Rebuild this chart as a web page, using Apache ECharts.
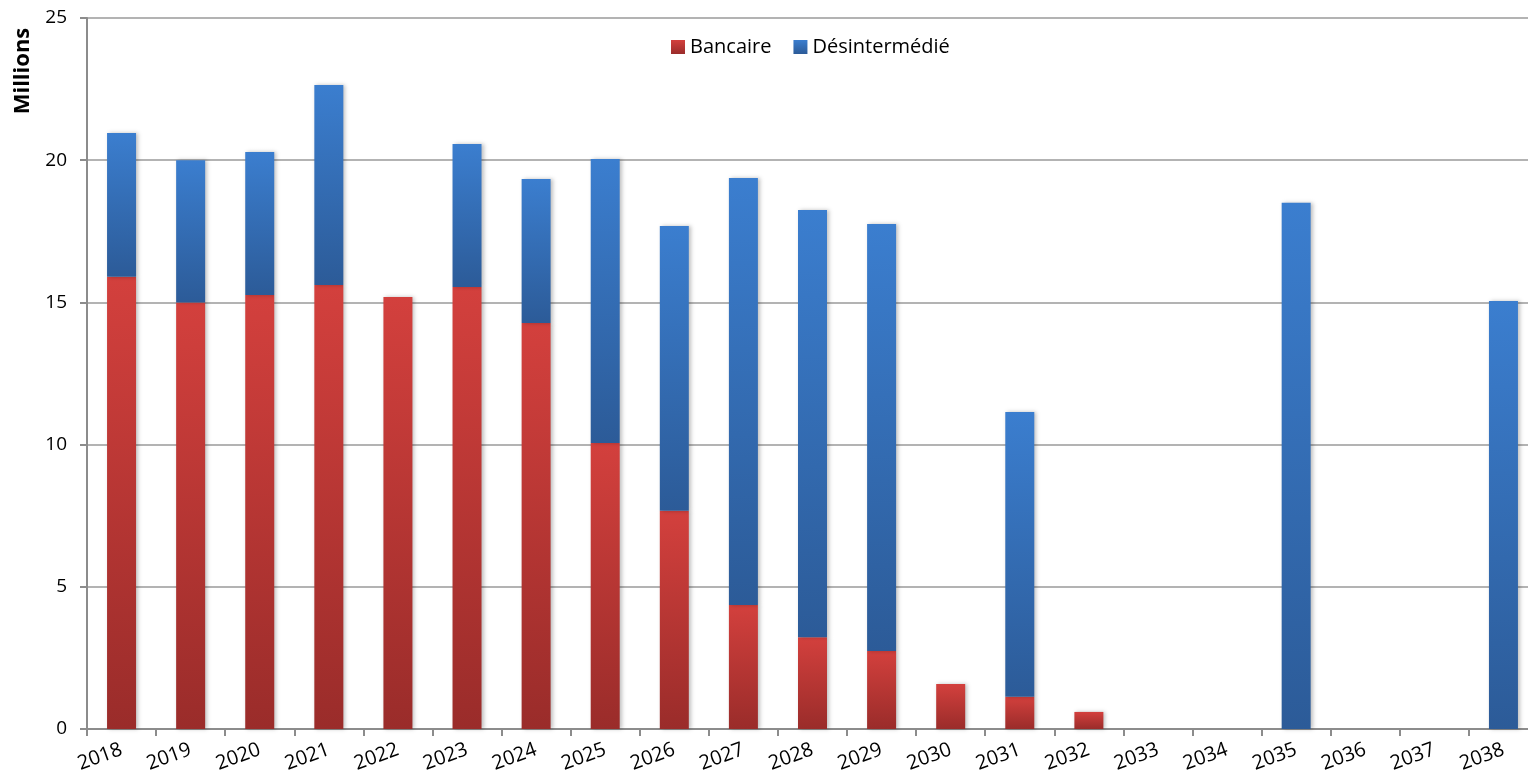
<!DOCTYPE html>
<html>
<head>
<meta charset="utf-8">
<script src="https://cdn.jsdelivr.net/npm/echarts@6/dist/echarts.min.js"></script>
<style>html,body{margin:0;padding:0;background:#fff;}#c{width:1528px;height:777px;}</style>
</head>
<body>
<div id="c"></div>
<script>
const years = ['2018','2019','2020','2021','2022','2023','2024','2025','2026','2027','2028','2029','2030','2031','2032','2033','2034','2035','2036','2037','2038'];
const bancaire = [15.9, 15.0, 15.26, 15.61, 15.19, 15.54, 14.28, 10.06, 7.67, 4.36, 3.23, 2.74, 1.58, 1.13, 0.6, null, null, null, null, null, null];
const desinter = [5.06, 5.0, 5.03, 7.03, null, 5.03, 5.06, 9.98, 10.02, 15.01, 15.02, 15.02, null, 10.02, null, null, null, 18.5, null, null, 15.05];
const yTicks = [0, 5, 10, 15, 20, 25];

const FONT = '"Open Sans", "Liberation Sans", sans-serif';
function grad(top, bottom) {
  return new echarts.graphic.LinearGradient(0, 0, 0, 1, [
    {offset: 0, color: top}, {offset: 1, color: bottom}
  ]);
}
const chart = echarts.init(document.getElementById('c'), null, {renderer: 'canvas'});
const shadow = {shadowColor: 'rgba(0,0,0,0.25)', shadowBlur: 4, shadowOffsetX: 2, shadowOffsetY: 0};
chart.setOption({
  animation: false,
  backgroundColor: '#fff',
  textStyle: {fontFamily: FONT},
  grid: {left: 87, top: 18, width: 1451, height: 711, containLabel: false, outerBoundsMode: 'none'},
  legend: {
    top: 32, left: 666, itemWidth: 14, itemHeight: 14, itemGap: 22, icon: 'rect',
    textStyle: {fontFamily: FONT, fontSize: 20, color: '#000'},
    data: ['Bancaire', 'Désintermédié']
  },
  graphic: [{
    type: 'text', x: 23, y: 71, rotation: Math.PI / 2,
    style: {text: 'Millions', font: 'bold 22px ' + FONT, fill: '#000', align: 'center', verticalAlign: 'middle'}
  }],
  xAxis: {
    type: 'category', data: years, boundaryGap: true,
    axisLine: {lineStyle: {color: '#8c8c8c', width: 2}},
    axisTick: {show: true, length: 7, alignWithLabel: false, lineStyle: {color: '#8c8c8c', width: 2}},
    axisLabel: {rotate: 20, margin: 20, fontSize: 20, color: '#000', fontFamily: FONT, interval: 0}
  },
  yAxis: {
    type: 'value', min: yTicks[0], max: yTicks[yTicks.length - 1], interval: 5,
    axisLine: {show: true, lineStyle: {color: '#8c8c8c', width: 2}},
    axisTick: {show: true, length: 7, lineStyle: {color: '#8c8c8c', width: 2}},
    splitLine: {lineStyle: {color: '#9a9a9a', width: 1.5}},
    axisLabel: {margin: 20, fontSize: 19, color: '#000', fontFamily: FONT}
  },
  series: [
    {
      name: 'Bancaire', type: 'bar', stack: 'tot', barWidth: 29, data: bancaire,
      itemStyle: Object.assign({color: grad('#d3403d', '#9a2c2a')}, shadow)
    },
    {
      name: 'Désintermédié', type: 'bar', stack: 'tot', barWidth: 29, data: desinter,
      itemStyle: Object.assign({color: grad('#3b7ecf', '#2c5b98')}, shadow)
    }
  ]
});
</script>
</body>
</html>
